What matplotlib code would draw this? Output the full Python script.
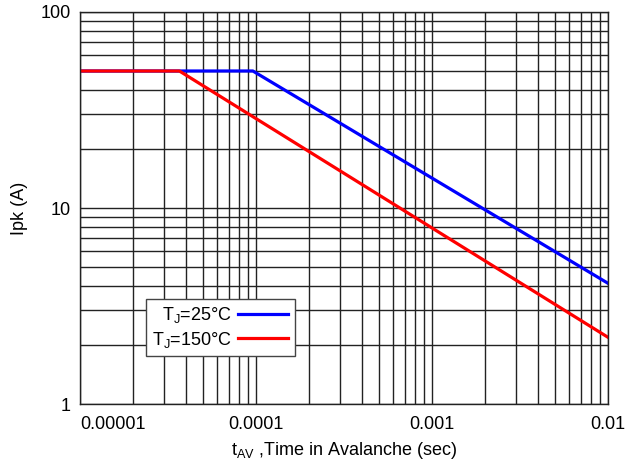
import matplotlib
matplotlib.use("Agg")
import matplotlib.pyplot as plt
from matplotlib.ticker import FixedLocator, LogLocator, NullFormatter

# curve break points
t_25 = [1e-5, 9.6e-5, 1e-2]
ipk_25 = [50, 50, 4.13]
t_150 = [1e-5, 3.67e-5, 1e-2]
ipk_150 = [50, 50, 2.19]

x_ticks = [1e-5, 1e-4, 1e-3, 1e-2]
x_labels = ["0.00001", "0.0001", "0.001", "0.01"]
y_ticks = [1, 10, 100]
y_labels = ["1", "10", "100"]

plt.rcParams['font.family'] = ['Liberation Sans', 'DejaVu Sans']
plt.rcParams['mathtext.fontset'] = 'custom'
plt.rcParams['mathtext.rm'] = 'Liberation Sans'

fig, ax = plt.subplots(figsize=(6.42, 4.61), dpi=100)
fig.subplots_adjust(left=0.1246, right=0.947, top=0.974, bottom=0.1236)

ax.set_xscale('log')
ax.set_yscale('log')
ax.set_xlim(1e-5, 1e-2)
ax.set_ylim(1, 100)

ax.xaxis.set_major_locator(FixedLocator(x_ticks))
ax.xaxis.set_minor_locator(LogLocator(base=10, subs=range(2, 10), numticks=20))
ax.yaxis.set_major_locator(FixedLocator(y_ticks))
ax.yaxis.set_minor_locator(LogLocator(base=10, subs=range(2, 10), numticks=20))
ax.xaxis.set_minor_formatter(NullFormatter())
ax.yaxis.set_minor_formatter(NullFormatter())
ax.set_xticklabels(x_labels)
ax.set_yticklabels(y_labels)
ax.get_xticklabels()[0].set_horizontalalignment('left')

ax.grid(True, which='both', color='#222222', linewidth=1.0)
ax.tick_params(which='both', length=0, labelsize=13)
ax.tick_params(axis='x', pad=8.5)
ax.tick_params(axis='y', pad=6.5)
for s in ax.spines.values():
    s.set_color('#222222')
    s.set_linewidth(1.0)

ax.plot(t_25, ipk_25, color='#0000ff', linewidth=2.3, label=r'T$_\mathregular{J}$=25°C')
ax.plot(t_150, ipk_150, color='#ff0000', linewidth=2.3, label=r'T$_\mathregular{J}$=150°C')

ax.set_xlabel(r'$\mathregular{t_{AV}}$ ,Time in Avalanche (sec)', fontsize=13, labelpad=5)
ax.set_ylabel('Ipk (A)', fontsize=13, labelpad=9)

leg = ax.legend(loc='lower left', bbox_to_anchor=(0.125, 0.1225), borderaxespad=0,
                markerfirst=False, fontsize=13, fancybox=False, framealpha=1,
                edgecolor='#444444', handlelength=2.8, borderpad=0.35,
                labelspacing=0.25, handletextpad=0.3)
leg.get_frame().set_linewidth(1.0)

fig.savefig('out.png', dpi=100)
